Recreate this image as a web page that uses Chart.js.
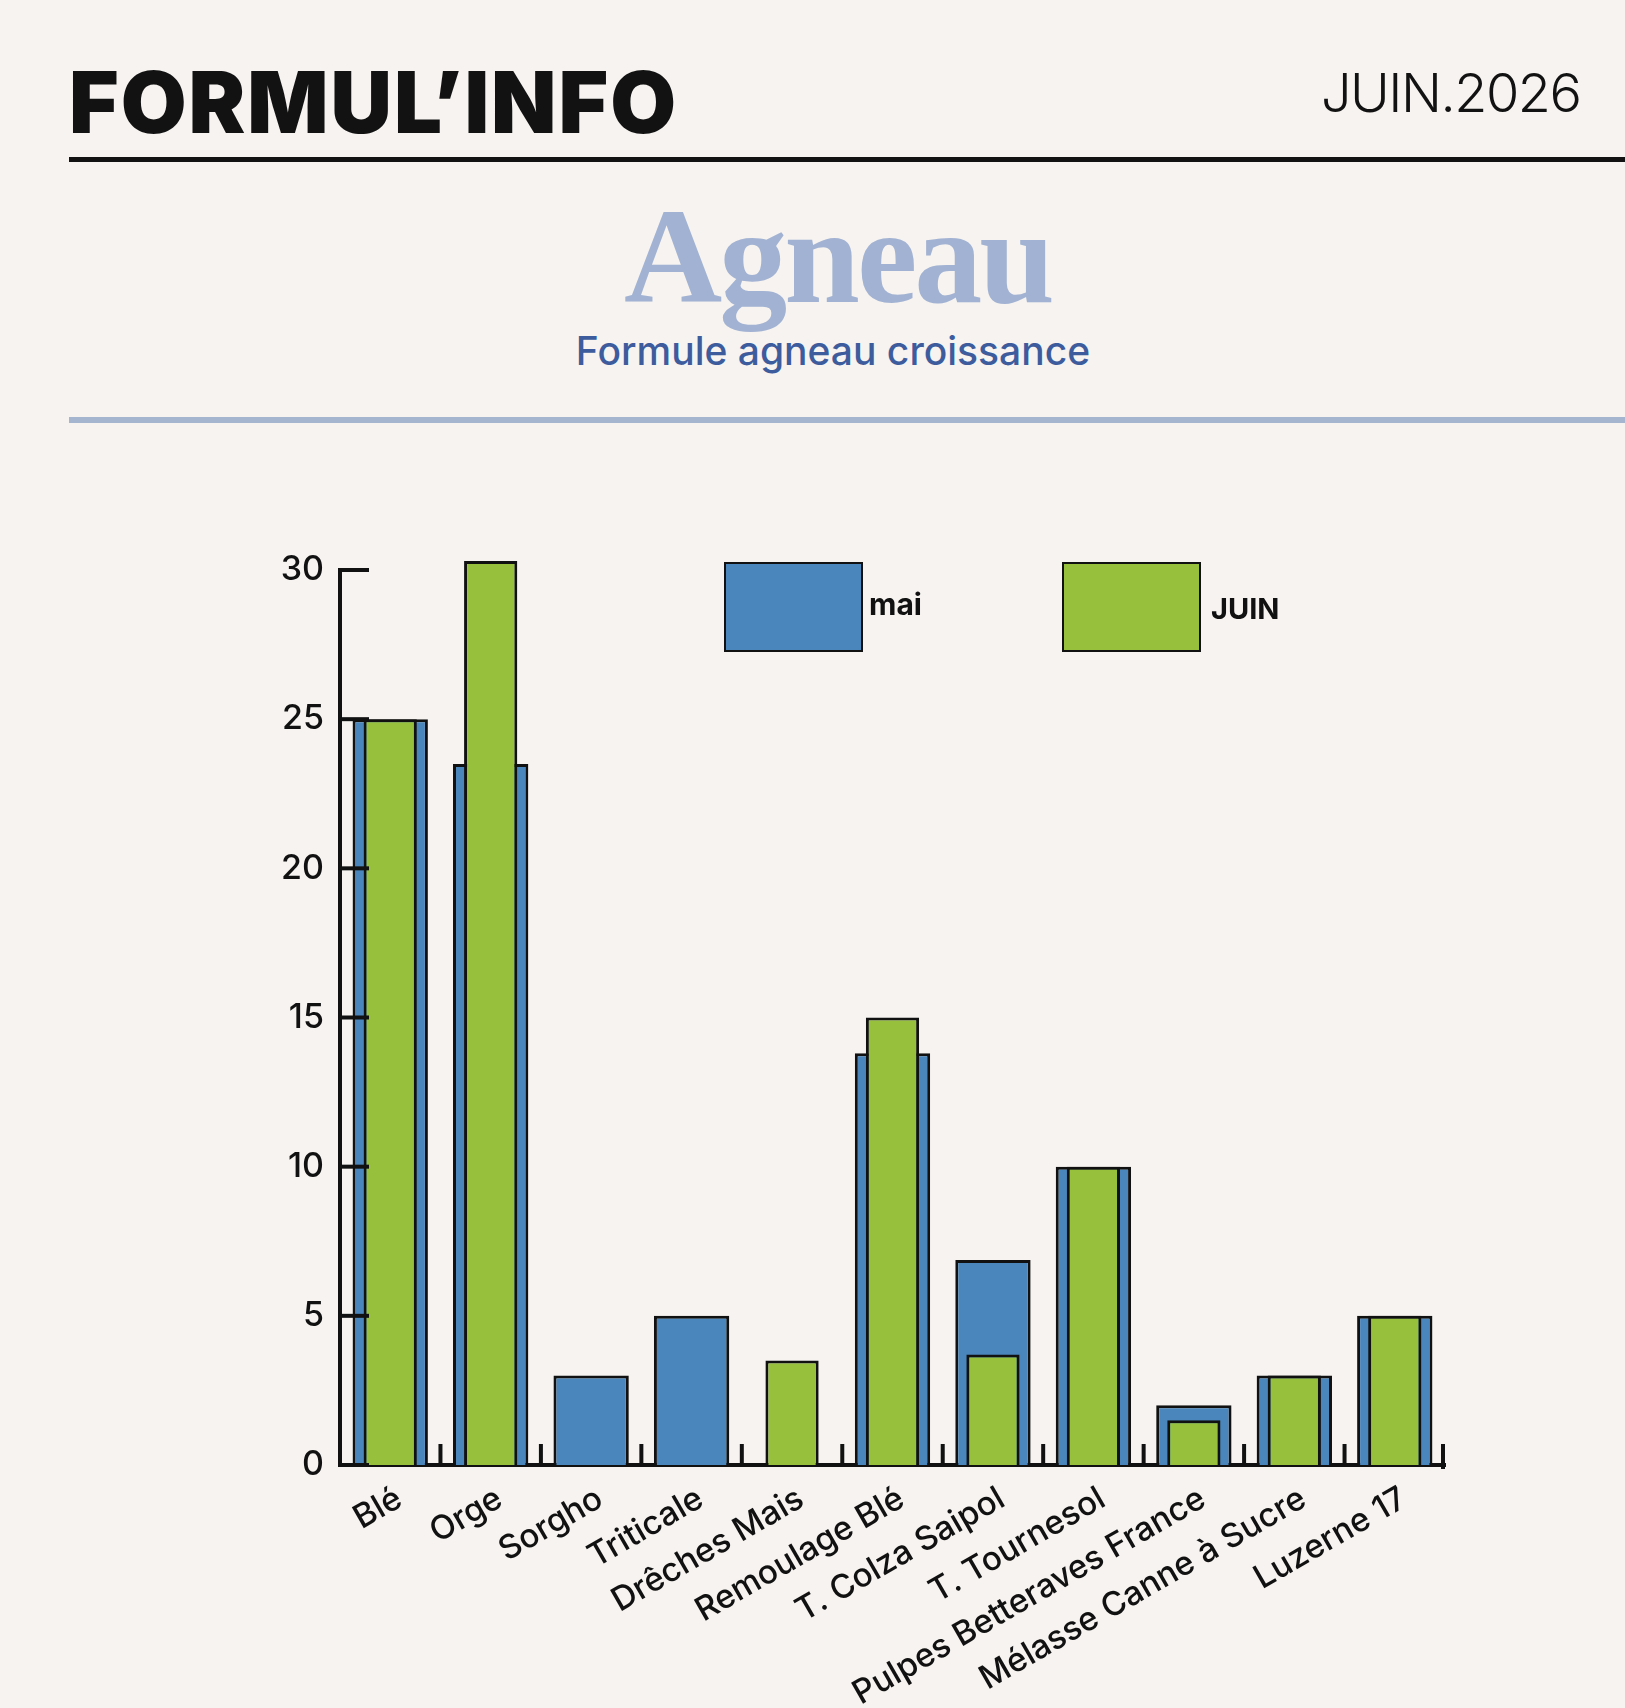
<!DOCTYPE html>
<html lang="fr">
<head>
<meta charset="utf-8">
<title>Formul'Info - Agneau</title>
<script src="https://cdn.jsdelivr.net/npm/chart.js@4.4.1/dist/chart.umd.min.js"></script>
<style>
    html, body {
        margin: 0;
        padding: 0;
        background: #f6f3f0;
    }
    #page {
        position: relative;
        width: 1625px;
        height: 1708px;
        overflow: hidden;
        background: #f6f3f0;
        font-family: 'Inter', sans-serif;
    }
    .abs { position: absolute; line-height: 1; white-space: nowrap; }
    #brand { left: 69px; top: 60px; font-size: 85px; font-weight: 900; color: #121212; letter-spacing: 2px; }
    #issue { left: 1321px; top: 66px; font-size: 54px; font-weight: 300; color: #121212; letter-spacing: -1.5px; }
    #ruleTop { left: 69px; top: 157px; width: 1556px; height: 5px; background: #121212; }
    #title { left: 0; width: 1676px; text-align: center; top: 188px; font-family: 'Liberation Serif', serif; font-weight: 700; font-size: 136px; color: #a2b2d2; letter-spacing: -3px; }
    #subtitle { left: 0; width: 1666px; text-align: center; top: 331px; font-size: 39px; font-weight: 500; color: #3d5c9e; }
    #ruleBlue { left: 69px; top: 417px; width: 1556px; height: 6px; background: #a6b5cf; }
    .legBox { position: absolute; box-sizing: border-box; border: 2px solid #111; }
    .legText { position: absolute; line-height: 1; font-weight: 700; color: #111; }
    #chartWrap { position: absolute; left: 0; top: 480px; width: 1625px; height: 1228px; }
</style>
</head>
<body>
<div id="page">
    <div id="brand" class="abs">FORMUL’INFO</div>
    <div id="issue" class="abs">JUIN.2026</div>
    <div id="ruleTop" class="abs"></div>
    <div id="title" class="abs">Agneau</div>
    <div id="subtitle" class="abs">Formule agneau croissance</div>
    <div id="ruleBlue" class="abs"></div>

    <div id="chartWrap"><canvas id="formulaChart"></canvas></div>

    <div id="legMaiBox" class="legBox" style="left:724px; top:562px; width:139px; height:90px;"></div>
    <div id="legMaiText" class="legText" style="left:869px; top:589px; font-size:30px;"></div>
    <div id="legJuinBox" class="legBox" style="left:1062px; top:562px; width:139px; height:90px;"></div>
    <div id="legJuinText" class="legText" style="left:1211px; top:594px; font-size:29px;"></div>
</div>

<script>
// Raw materials (x axis)
const categories = [
    'Blé', 'Orge', 'Sorgho', 'Triticale', 'Drêches Mais', 'Remoulage Blé',
    'T. Colza Saipol', 'T. Tournesol', 'Pulpes Betteraves France',
    'Mélasse Canne à Sucre', 'Luzerne 17'
];

// Incorporation rates (%)
const maiValues  = [25, 23.5, 3, 5, 0, 13.8, 6.87, 10, 2, 3, 5];
const juinValues = [25, 30.3, 0, 0, 3.5, 15, 3.7, 10, 1.5, 3, 5];

const seriesLabels = ['mai', 'JUIN'];
const yTicks = [0, 5, 10, 15, 20, 25, 30];

const colors = {
    mai: '#4a86bc',
    juin: '#97c13d',
    outline: '#111111',
    text: '#111111'
};

Chart.defaults.font.family = "'Inter', sans-serif";
Chart.defaults.color = colors.text;

// legend (html)
document.getElementById('legMaiBox').style.background = colors.mai;
document.getElementById('legJuinBox').style.background = colors.juin;
document.getElementById('legMaiText').textContent = seriesLabels[0];
document.getElementById('legJuinText').textContent = seriesLabels[1];

// inward tick marks on both axes
const innerTicks = {
    id: 'innerTicks',
    afterDatasetsDraw(chart) {
        const { ctx, chartArea, scales: { x, y } } = chart;
        ctx.save();
        ctx.strokeStyle = colors.outline;
        ctx.lineWidth = 4;
        ctx.lineCap = 'butt';

        // y ticks pointing right
        yTicks.forEach(v => {
            const py = y.getPixelForValue(v);
            ctx.beginPath();
            ctx.moveTo(chartArea.left, py);
            ctx.lineTo(chartArea.left + 29, py);
            ctx.stroke();
        });

        // x ticks at category boundaries, pointing up
        for (let i = 1; i <= categories.length; i++) {
            let px;
            if (i < categories.length) {
                px = (x.getPixelForTick(i - 1) + x.getPixelForTick(i)) / 2;
            } else {
                px = chartArea.right - 2;
            }
            ctx.beginPath();
            ctx.moveTo(px, chartArea.bottom - 21);
            ctx.lineTo(px, chartArea.bottom + (i === categories.length ? 4 : 0));
            ctx.stroke();
        }
        ctx.restore();
    }
};

const ctx = document.getElementById('formulaChart').getContext('2d');
const formulaChart = new Chart(ctx, {
    type: 'bar',
    data: {
        labels: categories,
        datasets: [
            {
                label: seriesLabels[0],
                data: maiValues,
                backgroundColor: colors.mai,
                borderColor: colors.outline,
                borderWidth: 3,
                barPercentage: 0.75,
                categoryPercentage: 1,
                grouped: false,
                order: 1,
                clip: false
            },
            {
                label: seriesLabels[1],
                data: juinValues,
                backgroundColor: colors.juin,
                borderColor: colors.outline,
                borderWidth: 3,
                barPercentage: 0.53,
                categoryPercentage: 1,
                grouped: false,
                order: 0,
                clip: false
            }
        ]
    },
    options: {
        responsive: true,
        maintainAspectRatio: false,
        animation: false,
        layout: {
            padding: { top: 90, left: 0, right: 180, bottom: 0 }
        },
        scales: {
            x: {
                grid: { display: false },
                border: { display: true, color: colors.outline, width: 4 },
                ticks: {
                    autoSkip: false,
                    minRotation: 30,
                    maxRotation: 30,
                    padding: 6,
                    labelOffset: 9,
                    color: colors.text,
                    font: { size: 33, weight: 500 }
                },
                afterFit(scale) { scale.height = 243; }
            },
            y: {
                min: 0,
                max: 30,
                grid: { display: false },
                border: { display: true, color: colors.outline, width: 4 },
                afterBuildTicks(scale) {
                    scale.ticks = yTicks.map(v => ({ value: v }));
                },
                ticks: {
                    padding: 8,
                    color: colors.text,
                    font: { size: 34, weight: 500 }
                },
                afterFit(scale) { scale.width = 340; }
            }
        },
        plugins: {
            legend: { display: false },
            tooltip: { enabled: false }
        }
    },
    plugins: [innerTicks]
});
</script>
</body>
</html>
